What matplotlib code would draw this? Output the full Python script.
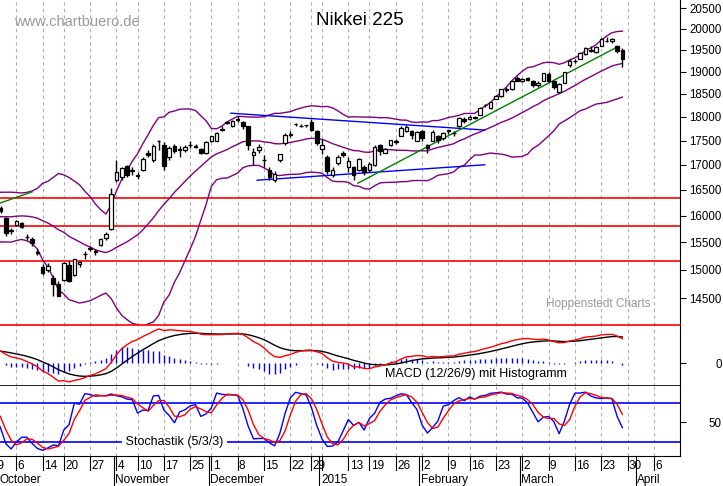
import matplotlib
matplotlib.use("Agg")
import matplotlib.pyplot as plt
import matplotlib.transforms as mtransforms
import numpy as np
import pandas as pd

plt.rcParams["font.family"] = "Liberation Sans"

# ---------------- data (Nikkei 225, Sep 2014 - Mar 2015) ----------------
opens = [15450,15500,15700,15720,15650,15690,15720,15730,15850,15920,15940,15900,15950,16150,16280,16150,16250,16260,16250,16260,
         16150,15950,15720,15820,15850,15600,15560,15320,15050,15000,14850,14750,14810,15080,14900,15100,15280,15380,15320,15450,15580,15750,
         16700,16750,16980,16880,16780,16900,17250,17100,17490,17400,17150,17380,17320,17300,17400,17360,17320,17250,
         17480,17500,17750,17880,17800,17960,17900,17800,17200,17300,17100,16900,16700,17100,17450,17620,17850,17810,17820,17900,17700,
         17325,17150,16800,17040,17250,16950,16950,16900,16950,16900,17000,17400,17250,17400,17500,17600,17700,17700,17500,
         17700,17400,17500,17600,17550,17700,17650,17800,17950,17950,18000,18050,18250,18200,18400,18450,18600,18600,18850,
         18800,18850,18800,18700,18800,18950,18800,18550,18750,19150,19250,19300,19400,19500,19450,19600,19700,19700,19600,19500]
highs = [15520,15690,15780,15750,15700,15750,15780,15800,15930,15990,15960,15930,16080,16330,16300,16200,16380,16300,16330,16280,
         16190,15980,15760,15920,15880,15650,15600,15380,15100,15120,14900,14800,15140,15150,15200,15160,15330,15420,15370,15580,15680,16530,
         17100,16960,17000,16950,16850,17150,17300,17420,17520,17460,17380,17420,17380,17400,17480,17420,17350,17480,
         17600,17680,17800,17920,17940,18030,17920,17800,17350,17420,17200,16950,16880,17230,17650,17700,17880,17850,17830,17950,17720,
         17540,17200,16950,17200,17280,17150,16980,17130,17000,17050,17400,17420,17340,17520,17530,17800,17820,17720,17700,
         17730,17430,17720,17620,17680,17730,17700,18000,18000,18050,18020,18220,18290,18350,18480,18620,18650,18800,18900,
         18850,18880,18820,18780,18980,19000,18820,18750,19000,19300,19300,19450,19560,19600,19580,19780,19800,19780,19620,19550]
lows = [15400,15480,15680,15640,15620,15670,15690,15700,15830,15900,15880,15850,15940,16120,16180,16050,16230,16200,16200,16150,
        16050,15620,15650,15800,15760,15540,15420,15260,14900,14950,14530,14530,14800,14780,14880,15050,15200,15330,15260,15420,15540,15720,
        16650,16700,16750,16800,16720,16880,17150,17050,17300,16900,17100,17250,17160,17270,17350,17340,17230,17230,
        17460,17480,17700,17850,17780,17900,17750,17300,17000,17250,16950,16700,16650,17050,17400,17580,17800,17780,17780,17700,17400,
        17230,16820,16750,17000,17150,16850,16700,16880,16800,16850,16980,17200,17240,17380,17420,17590,17680,17540,17480,
        17500,17250,17480,17450,17520,17640,17600,17780,17880,17940,17950,18040,18210,18180,18380,18430,18550,18590,18780,
        18760,18780,18650,18650,18780,18760,18600,18520,18740,19100,19200,19280,19390,19450,19420,19590,19680,19650,19430,19100]
closes = [15476,15668,15728,15676,15668,15705,15749,15788,15909,15948,15911,15888,16067,16321,16205,16167,16374,16229,16310,16173,
          16082,15661,15708,15890,15784,15595,15479,15300,14936,15073,14738,14532,15111,14804,15195,15138,15291,15388,15329,15553,15658,16413,
          16862,16937,16793,16880,16780,17124,17197,17392,17490,16973,17344,17288,17300,17357,17407,17383,17248,17460,
          17590,17663,17720,17887,17920,17935,17813,17412,17257,17371,17099,16755,16819,17211,17621,17635,17854,17808,17818,17729,17450,
          17408,16883,16885,17167,17197,17087,16795,17108,16864,17014,17366,17280,17329,17511,17468,17768,17795,17606,17674,
          17558,17335,17678,17504,17648,17711,17652,17979,17913,18004,17987,18199,18264,18332,18466,18603,18585,18785,18797,
          18826,18815,18704,18751,18971,18790,18665,18723,18991,19254,19246,19437,19544,19476,19560,19754,19713,19746,19471,19286]

holidays = ["2014-09-15","2014-09-23","2014-10-13","2014-11-03","2014-11-24","2014-12-23","2014-12-31",
            "2015-01-01","2015-01-02","2015-01-12","2015-02-11"]
support_levels = [16330, 15800, 15150]
upper_channel = ([45.7, 93.9], [18080, 17720])
lower_channel = ([50.7, 93.9], [16690, 17000])
trend_old = ([1.9, 8.0], [16240, 16460])
trend_new = ([69.8, 118.6], [16630, 19540])
price_ticks = list(range(14500, 20501, 500))
skip_labels = ["2015-01-05"]

# ---------------- calendar ----------------
cal = pd.bdate_range("2014-09-01", "2015-04-17")
cal = cal[~cal.isin(pd.to_datetime(holidays))]
start = list(cal).index(pd.Timestamp("2014-09-29"))
xall = np.arange(len(cal)) - start
n = len(closes)
x = xall[:n]

o = np.array(opens, float); h = np.array(highs, float); l = np.array(lows, float); c = np.array(closes, float)
cs = pd.Series(c)
mid = cs.rolling(20).mean(); sd = cs.rolling(20).std(ddof=0)
up = mid + 2 * sd; lo = mid - 2 * sd
macd = cs.ewm(span=12, adjust=False).mean() - cs.ewm(span=26, adjust=False).mean()
sig = macd.ewm(span=9, adjust=False).mean()
hist = macd - sig
hh = pd.Series(h).rolling(5).max(); ll = pd.Series(l).rolling(5).min()
fk = 100 * (cs - ll) / (hh - ll)
sk = fk.rolling(3).mean(); sdd = sk.rolling(3).mean()

W, H = 723, 486
fig = plt.figure(figsize=(7.23, 4.86), dpi=100)
def ax_at(top, bot):
    return fig.add_axes([0, 1 - bot / H, 680 / W, (bot - top) / H])
ax = ax_at(0, 325); axm = ax_at(325, 386); axs = ax_at(386, 456)
xmin, xmax = 1.9, 1.9 + 680 / 5.27

# weekly ticks
ticks, labels = [], []
prev = None
for i, d in enumerate(cal):
    wk = d.isocalendar()[1]
    if wk != prev:
        ticks.append(xall[i])
        labels.append("" if d.strftime("%Y-%m-%d") in skip_labels else str(d.day))
    prev = wk
months = []
prevm = None
for i, d in enumerate(cal):
    if d.month != prevm:
        months.append((xall[i] - 0.5, d))
    prevm = d.month

for a in (ax, axm, axs):
    a.set_xlim(xmin, xmax)
    for t in ticks:
        a.axvline(t, color="#b0b0b0", lw=0.8, ls=(0, (3, 3)), zorder=0)
    a.set_xticks([])
    for s in ("left", "top", "bottom"):
        a.spines[s].set_visible(False)
    a.spines["right"].set_color("black")
    a.yaxis.tick_right()
    a.tick_params(axis="y", direction="out", length=4, pad=26, labelsize=8.3)

# ---- main price panel ----
ax.set_yscale("log")
ax.set_ylim(14040, 20697)
ax.yaxis.set_minor_locator(matplotlib.ticker.NullLocator())
ax.set_yticks(price_ticks)
ax.set_yticklabels([str(v) for v in price_ticks])
for lab in ax.get_yticklabels():
    lab.set_ha("right")
for lv in support_levels:
    ax.axhline(lv, color="red", lw=1.2, zorder=1)
ax.plot(x, up[:n], color="#800080", lw=1)
ax.plot(x, mid[:n], color="#800080", lw=1)
ax.plot(x, lo[:n], color="#800080", lw=1)
ax.plot(*upper_channel, color="blue", lw=1)
ax.plot(*lower_channel, color="blue", lw=1)
ax.plot(*trend_old, color="green", lw=1)
ax.plot(*trend_new, color="green", lw=1)
vis = x >= 1
ax.vlines(x[vis], l[vis], h[vis], color="black", lw=1, zorder=3)
bot = np.minimum(o, c); top = np.maximum(o, c)
hgt = np.maximum(top - bot, 8)
cols = np.where(c >= o, "white", "black")
ax.bar(x[vis], hgt[vis], bottom=bot[vis], width=0.68, color=cols[vis], edgecolor="black", lw=0.9, zorder=4)
ax.text(14 / 680, 1 - 22 / 325, "www.chartbuero.de", transform=ax.transAxes, fontsize=10.5, color="#9a9a9a", va="center")
ax.text(360 / 680, 1 - 20 / 325, "Nikkei 225", transform=ax.transAxes, fontsize=13.5, ha="center", va="center")
ax.text(546 / 680, 1 - 304 / 325, "Hoppenstedt Charts", transform=ax.transAxes, fontsize=8.5, color="#999999", va="center")

# ---- MACD panel ----
k = macd[start:n].max() / 34.0
axm.set_ylim(-23 * k, 38 * k)
axm.set_yticks([0]); axm.set_yticklabels(["0"])
for lab in axm.get_yticklabels():
    lab.set_ha("right")
axm.spines["top"].set_visible(True); axm.spines["top"].set_color("red"); axm.spines["top"].set_linewidth(1.2)
axm.spines["bottom"].set_visible(True); axm.spines["bottom"].set_color("black"); axm.spines["bottom"].set_linewidth(1.2)
axm.vlines(x[vis], 0, hist[:n][vis], color="blue", lw=1)
axm.plot(x[vis], sig[:n][vis], color="black", lw=1)
axm.plot(x[vis], macd[:n][vis], color="red", lw=1)
axm.text(385 / 680, 0.19, "MACD (12/26/9) mit Histogramm", transform=axm.transAxes, fontsize=9, va="center",
         bbox=dict(facecolor="white", edgecolor="none", pad=0.5))

# ---- Stochastic panel ----
axs.set_ylim(-1.5, 106)
axs.set_yticks([50]); axs.set_yticklabels(["50"])
for lab in axs.get_yticklabels():
    lab.set_ha("right")
axs.spines["bottom"].set_visible(True); axs.spines["bottom"].set_color("black")
axs.axhline(80, color="blue", lw=1.2); axs.axhline(20, color="blue", lw=1.2)
axs.plot(x[vis], sk[:n][vis], color="blue", lw=1)
axs.plot(x[vis], sdd[:n][vis], color="red", lw=1)
axs.text(122 / 680, 20, " Stochastik (5/3/3) ", transform=mtransforms.blended_transform_factory(axs.transAxes, axs.transData),
         fontsize=9, va="center", bbox=dict(facecolor="white", edgecolor="none", pad=0.3))

# ---- date axis ----
bt = mtransforms.blended_transform_factory(axs.transData, fig.transFigure)
for t, lb in zip(ticks, labels):
    if xmin - 3 < t < xmax:
        axs.plot([t, t], [1 - 456 / H, 1 - 470 / H], transform=bt, color="black", lw=0.8, clip_on=False)
        if lb:
            axs.text(t + 0.25, 1 - 466 / H, lb, transform=bt, fontsize=8.5, ha="left", va="center", clip_on=False)
for mx, d in months:
    if xmin - 1 < mx < xmax:
        axs.plot([mx, mx], [1 - 456 / H, 0], transform=bt, color="black", lw=0.8, clip_on=False)
        name = "2015" if d.month == 1 else d.strftime("%B")
        axs.text(mx + 0.3, 1 - 480 / H, name, transform=bt, fontsize=8.5, ha="left", va="center", clip_on=False)

fig.savefig("out.png", dpi=100)
